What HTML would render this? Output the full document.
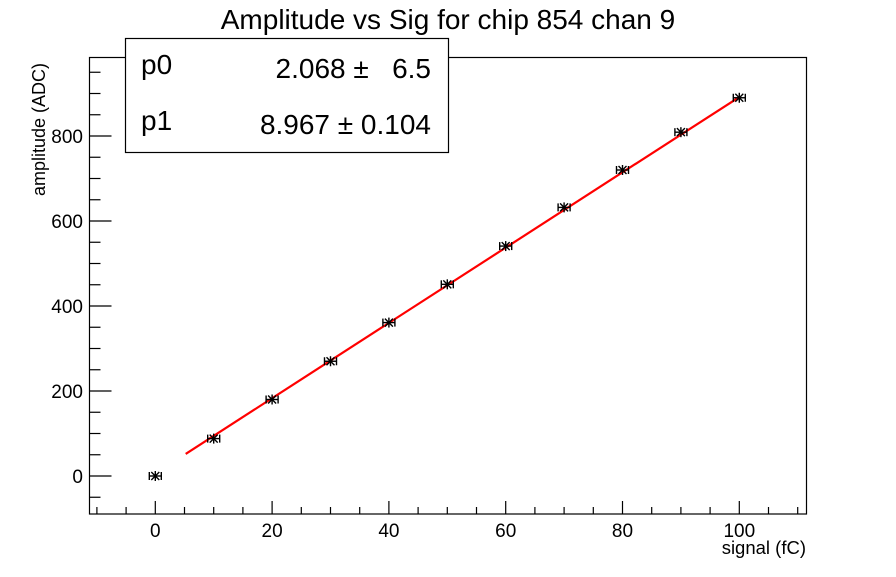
<!DOCTYPE html>
<html><head><style>body{margin:0;background:#fff}</style></head><body>
<svg width="896" height="572" xmlns="http://www.w3.org/2000/svg" font-family="Liberation Sans, sans-serif">
<rect width="896" height="572" fill="#fff"/>
<text x="448" y="29" font-size="28" text-anchor="middle">Amplitude vs Sig for chip 854 chan 9</text>
<rect x="89.5" y="57.5" width="717" height="456.5" fill="none" stroke="#000" stroke-width="1.2"/>
<g stroke="#000" stroke-width="1.2" id="ticks"></g>
<g font-size="19" text-anchor="middle" id="xl"></g>
<g font-size="19" text-anchor="end" id="yl"></g>
<text x="806" y="554" font-size="18.5" text-anchor="end">signal (fC)</text>
<text transform="translate(45,196) rotate(-90)" font-size="18">amplitude (ADC)</text>
<line x1="185.7" y1="453.9" x2="739.5" y2="96.9" stroke="#f00" stroke-width="2.2"/>
<g id="pts" stroke="#000" stroke-width="1.4"></g>
<rect x="125.5" y="38.5" width="323" height="114" fill="#fff" stroke="#000" stroke-width="1.2"/>
<g font-size="28">
<text x="141" y="74">p0</text><text x="431" y="78" text-anchor="end">2.068 ±&#160;&#160;&#160;6.5</text>
<text x="141" y="130">p1</text><text x="431" y="134" text-anchor="end">8.967 ± 0.104</text>
</g>
<script>
var X=v=>155.3+v*5.84, Y=v=>476-v*0.425, ns="http://www.w3.org/2000/svg";
function el(p,t,a,txt){var e=document.createElementNS(ns,t);for(var k in a)e.setAttribute(k,a[k]);if(txt!=null)e.textContent=txt;document.getElementById(p).appendChild(e);}
for(var v=-10;v<=110;v+=5){var x=X(v),L=v%20==0?13:7;el('ticks','line',{x1:x,y1:514,x2:x,y2:514-L});if(v%20==0)el('xl','text',{x:x,y:537},v);}
for(var v=-50;v<=950;v+=50){var y=Y(v),L=v%200==0?22:11;el('ticks','line',{x1:89.5,y1:y,x2:89.5+L,y2:y});if(v%200==0)el('yl','text',{x:83,y:y+7},v);}
var d=[0,88,180,270,361,451,541,632,720,809,890];
d.forEach(function(a,i){var x=X(i*10),y=Y(a);
el('pts','line',{x1:x-6,y1:y,x2:x+6,y2:y});el('pts','line',{x1:x-6,y1:y-4,x2:x-6,y2:y+4});el('pts','line',{x1:x+6,y1:y-4,x2:x+6,y2:y+4});
el('pts','line',{x1:x,y1:y-5,x2:x,y2:y+5});el('pts','line',{x1:x-4,y1:y-4,x2:x+4,y2:y+4});el('pts','line',{x1:x-4,y1:y+4,x2:x+4,y2:y-4});});
</script>
</svg>
</body></html>
